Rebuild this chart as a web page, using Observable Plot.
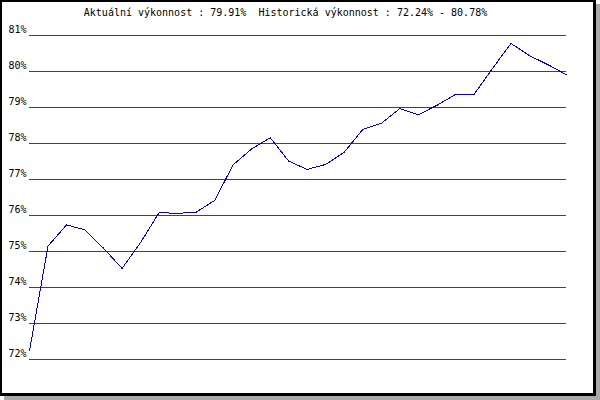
<!DOCTYPE html>
<html><head><meta charset="utf-8">
<script src="https://cdn.jsdelivr.net/npm/d3@7"></script>
<script src="https://cdn.jsdelivr.net/npm/@observablehq/plot@0.6"></script>
<style>
html,body{margin:0;padding:0;background:#fff;}
#wrap{position:relative;width:600px;height:400px;overflow:hidden;background:#fff;}
#chart{position:absolute;left:0;top:0;}
#frame{position:absolute;left:0;top:0;width:591px;height:391px;border-left:2px solid #000;border-top:2px solid #000;border-right:3px solid #000;border-bottom:3px solid #000;box-shadow:4px 4px 0 #aaa;pointer-events:none;}
#title{position:absolute;left:0;width:571px;top:7px;text-align:center;font:10px "DejaVu Sans Mono",monospace;line-height:12px;white-space:pre;color:#000;}
</style>
</head><body>
<div id="wrap">
  <div id="chart"></div>
  <div id="frame"></div>
  <div id="title"></div>
</div>
<script>
const titleText = "Aktuální výkonnost : 79.91%  Historická výkonnost : 72.24% - 80.78%";
const yTicks = [72, 73, 74, 75, 76, 77, 78, 79, 80, 81];
const performance = [72.24, 75.15, 75.74, 75.60, 75.09, 74.53, 75.25, 76.08, 76.06, 76.09,
  76.42, 77.41, 77.85, 78.16, 77.51, 77.28, 77.42, 77.76, 78.39, 78.56,
  78.97, 78.80, 79.06, 79.36, 79.36, 80.08, 80.78, 80.44, 80.19, 79.91];

document.getElementById("title").textContent = titleText;
const data = performance.map((v, i) => ({i, v}));

const chart = Plot.plot({
  width: 600,
  height: 400,
  marginLeft: 29,
  marginRight: 34,
  marginTop: 35,
  marginBottom: 41,
  style: {fontFamily: "'DejaVu Sans Mono', monospace", fontSize: "10px", background: "transparent", color: "#000"},
  x: {domain: [0, performance.length - 1], axis: null},
  y: {domain: [72, 81], axis: null},
  marks: [
    Plot.ruleY(yTicks, {stroke: "#e00000", strokeWidth: 1, shapeRendering: "crispEdges"}),
    Plot.axisY({ticks: yTicks, tickFormat: d => d + "%", tickSize: 0, tickPadding: 3, dy: -6, label: null, fill: "#000", fontFamily: "'DejaVu Sans Mono', monospace", fontSize: 10}),
    Plot.line(data, {x: "i", y: "v", stroke: "#0000c8", strokeWidth: 1, shapeRendering: "crispEdges"})
  ]
});
document.getElementById("chart").appendChild(chart);
</script>
</body></html>
